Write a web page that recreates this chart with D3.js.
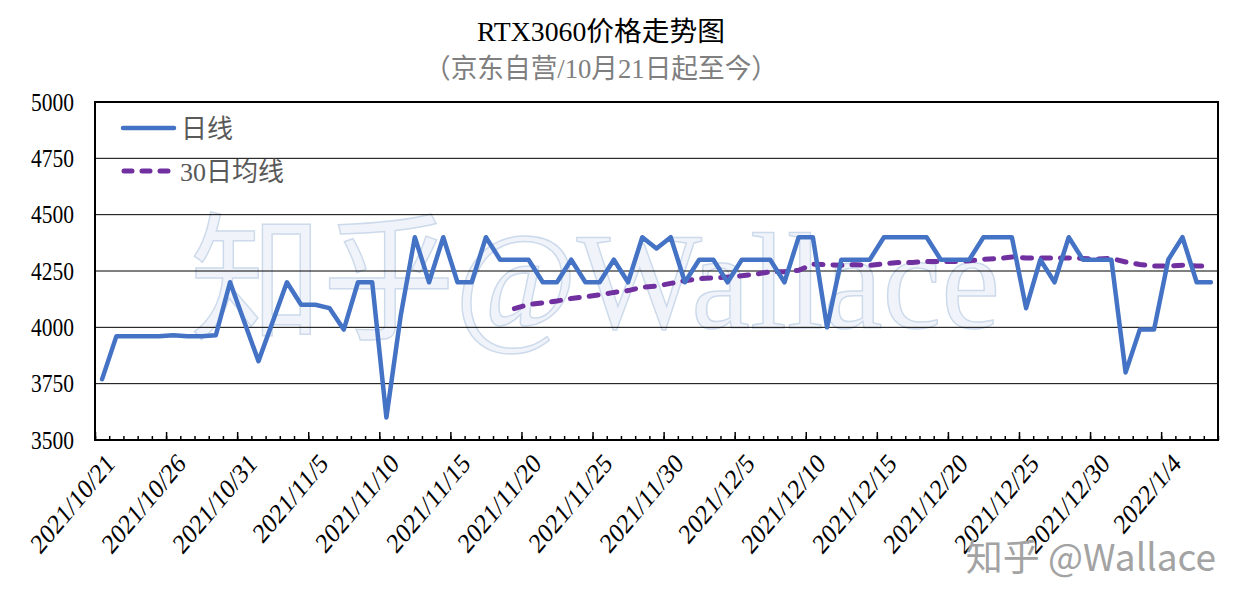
<!DOCTYPE html>
<html>
<head>
<meta charset="utf-8">
<script src="https://cdn.jsdelivr.net/npm/d3@7/dist/d3.min.js"></script>
<style>
  html, body { margin: 0; padding: 0; background: #fff; }
  svg { display: block; }
</style>
</head>
<body>
<svg id="chart" width="1248" height="608"></svg>
<script>
// ---------- data ----------
const categories = [
  "2021/10/21","2021/10/22","2021/10/23","2021/10/24","2021/10/25","2021/10/26","2021/10/27","2021/10/28","2021/10/29","2021/10/30","2021/10/31",
  "2021/11/1","2021/11/2","2021/11/3","2021/11/4","2021/11/5","2021/11/6","2021/11/7","2021/11/8","2021/11/9","2021/11/10",
  "2021/11/11","2021/11/12","2021/11/13","2021/11/14","2021/11/15","2021/11/16","2021/11/17","2021/11/18","2021/11/19","2021/11/20",
  "2021/11/21","2021/11/22","2021/11/23","2021/11/24","2021/11/25","2021/11/26","2021/11/27","2021/11/28","2021/11/29","2021/11/30",
  "2021/12/1","2021/12/2","2021/12/3","2021/12/4","2021/12/5","2021/12/6","2021/12/7","2021/12/8","2021/12/9","2021/12/10",
  "2021/12/11","2021/12/12","2021/12/13","2021/12/14","2021/12/15","2021/12/16","2021/12/17","2021/12/18","2021/12/19","2021/12/20",
  "2021/12/21","2021/12/22","2021/12/23","2021/12/24","2021/12/25","2021/12/26","2021/12/27","2021/12/28","2021/12/29","2021/12/30",
  "2021/12/31","2022/1/1","2022/1/2","2022/1/3","2022/1/4","2022/1/5","2022/1/6","2022/1/7"
];
const dailyPrice = [
  3770, 3960, 3960, 3960, 3960, 3965, 3960, 3960, 3965, 4200,
  4025, 3850, 4025, 4200, 4100, 4100, 4085, 3990, 4200, 4200,
  3600, 4050, 4400, 4200, 4400, 4200, 4200, 4400, 4300, 4300,
  4300, 4200, 4200, 4300, 4200, 4200, 4300, 4200, 4400, 4350,
  4400, 4200, 4300, 4300, 4200, 4300, 4300, 4300, 4200, 4400,
  4400, 4000, 4300, 4300, 4300, 4400, 4400, 4400, 4400, 4300,
  4300, 4300, 4400, 4400, 4400, 4085, 4300, 4200, 4400, 4300,
  4300, 4300, 3800, 3990, 3990, 4300, 4400, 4200, 4200
];
// 30-day average, first value on 2021/11/19
const maStart = "2021/11/19";
const ma30 = [
  4083, 4101, 4109, 4117, 4128, 4136, 4144, 4155, 4163, 4178,
  4183, 4195, 4207, 4216, 4219, 4223, 4229, 4236, 4247, 4247,
  4253, 4280, 4278, 4275, 4278, 4275, 4282, 4288, 4288, 4292,
  4292, 4292, 4295, 4302, 4305, 4312, 4308, 4308, 4308, 4308,
  4306, 4303, 4306, 4290, 4279, 4272, 4272, 4276, 4272, 4272
];
const yTicks = [3500, 3750, 4000, 4250, 4500, 4750, 5000];
const labelStep = 5;
const seriesNames = ["日线", "30日均线"];
const title = "RTX3060价格走势图";
const subtitle = "（京东自营/10月21日起至今）";

// ---------- layout ----------
const svg = d3.select("#chart");
const L = 95, R = 1218, T = 102, B = 440;
const serif = "'Times New Roman','Liberation Serif','Noto Sans CJK SC',serif";

const x = d3.scaleBand().domain(categories).range([L, R]).padding(0);
const bw = x.bandwidth();
const cx = c => x(c) + bw / 2;
const y = d3.scaleLinear().domain([3500, 5000]).range([B, T]);

// watermark (big, faint)
svg.append("text")
  .attr("x", 190).attr("y", 328)
  .attr("textLength", 810).attr("lengthAdjust", "spacingAndGlyphs")
  .style("font-family", "'Liberation Serif','Noto Sans CJK SC',serif")
  .style("font-size", "138px")
  .attr("fill", "#f0f4fa").attr("stroke", "#cddaeb").attr("stroke-width", 1.5)
  .text("知乎@Wallace");

// gridlines
svg.append("g").selectAll("line").data(yTicks.filter(v => v > 3500 && v < 5000)).join("line")
  .attr("x1", L).attr("x2", R).attr("y1", d => y(d)).attr("y2", d => y(d))
  .attr("stroke", "#000").attr("stroke-width", 1);

// plot border
svg.append("rect").attr("x", L).attr("y", T).attr("width", R - L).attr("height", B - T)
  .attr("fill", "none").attr("stroke", "#000").attr("stroke-width", 2);

// y axis labels
const yAxis = d3.axisLeft(y).tickValues(yTicks).tickSize(0).tickPadding(21).tickFormat(d3.format("d"));
const gy = svg.append("g").attr("transform", `translate(${L},0)`).call(yAxis);
gy.select(".domain").remove();
gy.selectAll("text").style("font-family", serif).style("font-size", "25px").attr("fill", "#000")
  .attr("textLength", 43).attr("lengthAdjust", "spacingAndGlyphs");

// x axis ticks (minor every category boundary, major every 5)
const xIdx = d3.scaleLinear().domain([0, categories.length]).range([L, R]);
const minorAxis = d3.axisBottom(xIdx).tickValues(d3.range(0, categories.length + 1)).tickSize(-4).tickFormat("");
const gMinor = svg.append("g").attr("transform", `translate(0,${B})`).call(minorAxis);
gMinor.select(".domain").remove();
gMinor.selectAll("line").attr("stroke", "#000").attr("stroke-width", 1.5);
const majorAxis = d3.axisBottom(xIdx).tickValues(d3.range(0, categories.length + 1, labelStep)).tickSize(-8).tickFormat("");
const gMajor = svg.append("g").attr("transform", `translate(0,${B})`).call(majorAxis);
gMajor.select(".domain").remove();
gMajor.selectAll("line").attr("stroke", "#000").attr("stroke-width", 1.5);

// x labels
const labelCats = categories.filter((d, i) => i % labelStep === 0);
const xAxis = d3.axisBottom(x).tickValues(labelCats).tickSize(0).tickFormat(d => d);
const gx = svg.append("g").attr("transform", `translate(0,${B})`).call(xAxis);
gx.select(".domain").remove();
gx.selectAll("text")
  .style("font-family", serif).style("font-size", "28px").attr("fill", "#000")
  .attr("text-anchor", "end")
  .attr("transform", "translate(14,25) scale(0.84,1) rotate(-45)")
  .attr("dy", 0).attr("y", 0).attr("x", 0);

// series
const line = d3.line().x(d => cx(d.c)).y(d => y(d.v));
const dailyData = categories.map((c, i) => ({ c, v: dailyPrice[i] }));
const s0 = categories.indexOf(maStart);
const maData = ma30.map((v, i) => ({ c: categories[s0 + i], v }));

svg.append("path").datum(maData).attr("d", line)
  .attr("fill", "none").attr("stroke", "#7030A0").attr("stroke-width", 5)
  .attr("stroke-dasharray", "9 10").attr("stroke-linecap", "round");
svg.append("path").datum(dailyData).attr("d", line)
  .attr("fill", "none").attr("stroke", "#4472C4").attr("stroke-width", 4.5)
  .attr("stroke-linejoin", "round").attr("stroke-linecap", "round");

// legend
const leg = svg.append("g");
leg.append("line").attr("x1", 123).attr("x2", 174).attr("y1", 128).attr("y2", 128)
  .attr("stroke", "#4472C4").attr("stroke-width", 4.5).attr("stroke-linecap", "round");
leg.append("text").attr("x", 181).attr("y", 138).text(seriesNames[0]);
leg.append("line").attr("x1", 124).attr("x2", 172).attr("y1", 171).attr("y2", 171)
  .attr("stroke", "#7030A0").attr("stroke-width", 5).attr("stroke-dasharray", "8 10").attr("stroke-linecap", "round");
leg.append("text").attr("x", 180).attr("y", 181).text(seriesNames[1]);
leg.selectAll("text").style("font-family", serif).style("font-size", "26px").attr("fill", "#595959");

// titles
svg.append("text").attr("x", 601).attr("y", 41).attr("text-anchor", "middle")
  .attr("textLength", 248).attr("lengthAdjust", "spacingAndGlyphs")
  .style("font-family", serif).style("font-size", "27px").attr("fill", "#000").text(title);
svg.append("text").attr("x", 601).attr("y", 78).attr("text-anchor", "middle")
  .attr("textLength", 354).attr("lengthAdjust", "spacingAndGlyphs")
  .style("font-family", serif).style("font-size", "27px").attr("fill", "#7f7f7f").text(subtitle);

// corner watermark
svg.append("text").attr("x", 1216).attr("y", 571).attr("text-anchor", "end")
  .style("font-family", "'Noto Sans CJK SC','Noto Sans',sans-serif").style("font-size", "37px")
  .attr("fill", "#a3a3a3").text("知乎 @Wallace");
</script>
</body>
</html>
